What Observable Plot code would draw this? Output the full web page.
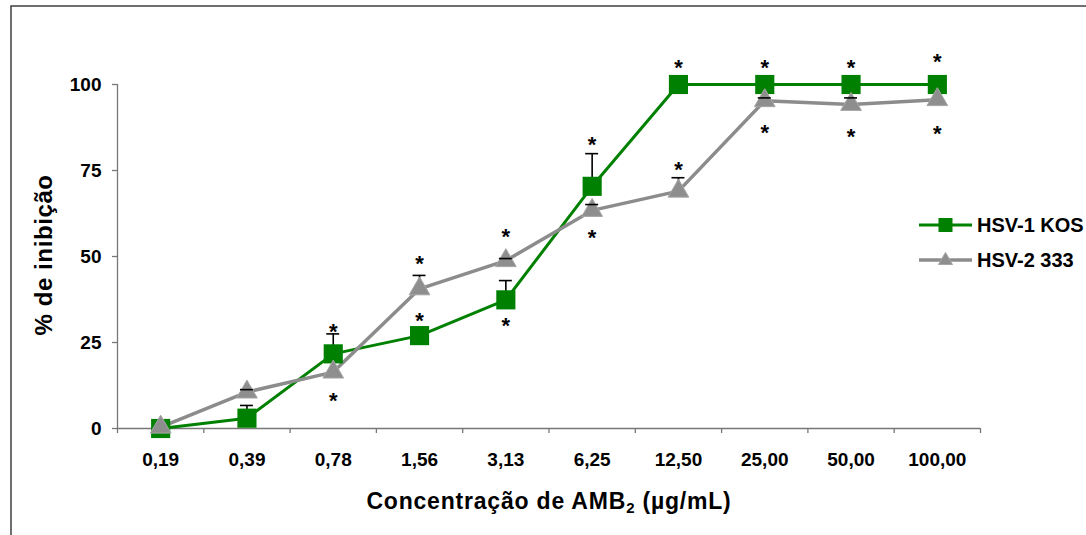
<!DOCTYPE html>
<html>
<head>
<meta charset="utf-8">
<script src="https://cdn.jsdelivr.net/npm/d3@7"></script>
<script src="https://cdn.jsdelivr.net/npm/@observablehq/plot@0.6"></script>
<style>
  html, body { margin: 0; padding: 0; background: #fff; }
  #chart svg { display: block; }
</style>
</head>
<body>
<div id="chart"></div>
<script>
// Categories (concentrations, µg/mL)
const concs = ["0,19", "0,39", "0,78", "1,56", "3,13", "6,25", "12,50", "25,00", "50,00", "100,00"];
// % inhibition, HSV-1 KOS
const kos = [0, 3, 21.7, 27, 37.4, 70.4, 100, 100, 100, 100];
// top of error bar (mean + SD), HSV-1 KOS
const kosErr = [null, 6.7, 27.5, null, 43, 79.9, null, null, null, null];
// % inhibition, HSV-2 333
const hsv2 = [0.4, 10.6, 16.4, 40.6, 48.8, 63.4, 69, 95.3, 94.2, 95.6];
// top of error bar, HSV-2 333
const hsv2Err = [null, 11.3, null, 44.5, 49.4, 65.1, 72.9, 96.1, 96.1, null];
// significance asterisks (level on the % scale where each * sits)
const kosStar = [null, null, 29.4, 32.8, 31.4, 84, 106.2, 106.2, 106.2, 108.1];
const hsv2Star = [null, null, 9.6, 49.4, 57, 56.7, 76.5, 87.5, 86.3, 87.2];
const yTicks = [0, 25, 50, 75, 100];
const seriesNames = ["HSV-1 KOS", "HSV-2 333"];

const GREEN = "#008000";
const GRAY = "#8c8c8c";
const FONT = "'Liberation Sans', Arial, sans-serif";

const rows = concs.map((c, i) => ({
  i, c,
  kos: kos[i], kosErr: kosErr[i], kosStar: kosStar[i],
  hsv2: hsv2[i], hsv2Err: hsv2Err[i], hsv2Star: hsv2Star[i]
}));
const kErr = rows.filter(d => d.kosErr != null);
const hErr = rows.filter(d => d.hsv2Err != null);
const kStar = rows.filter(d => d.kosStar != null);
const hStar = rows.filter(d => d.hsv2Star != null);
const edges = d3.range(concs.length + 1).map(k => k - 0.5);
const capHalf = 0.075;

const plot = Plot.plot({
  width: 1086,
  height: 535,
  marginLeft: 117,
  marginRight: 106,
  marginTop: 84,
  marginBottom: 107,
  style: { fontFamily: FONT, color: "black", background: "white", overflow: "visible" },
  x: { type: "linear", domain: [-0.5, concs.length - 0.5] },
  y: { domain: [0, 100] },
  marks: [
    Plot.ruleY([0], { stroke: "#777", strokeWidth: 1.3 }),
    Plot.ruleX([-0.5], { stroke: "#777", strokeWidth: 1.3 }),
    Plot.axisX({ ticks: edges, tickSize: 5, tickFormat: () => "", label: null, stroke: "#777", strokeWidth: 1.3 }),
    Plot.axisX({ ticks: d3.range(concs.length), tickSize: 0, tickPadding: 24, tickFormat: i => concs[i],
      fontSize: 19, fontWeight: "bold", label: null }),
    Plot.axisY({ ticks: yTicks, tickSize: 5, tickPadding: 11, fontSize: 19, fontWeight: "bold",
      label: null, stroke: "#777", strokeWidth: 1.3 }),
    Plot.line(rows, { x: "i", y: "kos", stroke: GREEN, strokeWidth: 3 }),
    Plot.line(rows, { x: "i", y: "hsv2", stroke: GRAY, strokeWidth: 3.5 }),
    Plot.ruleX(kErr, { x: "i", y1: "kos", y2: "kosErr", stroke: "black", strokeWidth: 1.6 }),
    Plot.ruleX(hErr, { x: "i", y1: "hsv2", y2: "hsv2Err", stroke: "black", strokeWidth: 1.6 }),
    Plot.dot(rows, { x: "i", y: "kos", symbol: "square", r: 10.8, fill: GREEN }),
    Plot.dot(rows, { x: "i", y: "hsv2", symbol: "triangle", r: 7.7, fill: "#8e8e8e", stroke: "#a6a6a6", strokeWidth: 1 }),
    Plot.ruleY(kErr, { y: "kosErr", x1: d => d.i - capHalf, x2: d => d.i + capHalf, stroke: "black", strokeWidth: 1.6 }),
    Plot.ruleY(hErr, { y: "hsv2Err", x1: d => d.i - capHalf, x2: d => d.i + capHalf, stroke: "black", strokeWidth: 1.6 }),
    Plot.text(kStar, { x: "i", y: "kosStar", text: () => "*", fontSize: 22, fontWeight: "bold", dy: 5, fill: "black" }),
    Plot.text(hStar, { x: "i", y: "hsv2Star", text: () => "*", fontSize: 22, fontWeight: "bold", dy: 5, fill: "black" })
  ]
});

const svg = d3.select(plot);

// outer frame (top and left edges visible)
svg.append("path")
  .attr("d", "M11,535V6H1086")
  .attr("fill", "none")
  .attr("stroke", "#404040")
  .attr("stroke-width", 1.5);

// x-axis title with subscript
const xt = svg.append("text")
  .attr("x", 549).attr("y", 509)
  .attr("text-anchor", "middle")
  .attr("font-family", FONT)
  .attr("font-weight", "bold")
  .attr("font-size", 23)
  .attr("letter-spacing", 0.8)
  .attr("fill", "black");
xt.append("tspan").text("Concentração de AMB");
xt.append("tspan").attr("font-size", 15).attr("dy", 4).text("2");
xt.append("tspan").attr("dy", -4).text(" (µg/mL)");

// y-axis title
svg.append("text")
  .attr("transform", "translate(52,255) rotate(-90)")
  .attr("text-anchor", "middle")
  .attr("font-family", FONT)
  .attr("font-weight", "bold")
  .attr("font-size", 24)
  .attr("letter-spacing", 0.6)
  .attr("fill", "black")
  .text("% de inibição");

// legend
const lg = svg.append("g");
const items = [
  { name: seriesNames[0], color: GREEN, y: 225, base: 231.5, sym: d3.symbolSquare, size: 196, fill: GREEN, stroke: "none", w: 3 },
  { name: seriesNames[1], color: GRAY, y: 260, base: 267, sym: d3.symbolTriangle, size: 85, fill: "#8e8e8e", stroke: "#a6a6a6", w: 3.5 }
];
items.forEach(it => {
  lg.append("line").attr("x1", 919).attr("x2", 972).attr("y1", it.y).attr("y2", it.y)
    .attr("stroke", it.color).attr("stroke-width", it.w);
  lg.append("path").attr("d", d3.symbol(it.sym, it.size)())
    .attr("transform", `translate(945.5,${it.sym === d3.symbolSquare ? it.y : it.y + 0.5})`)
    .attr("fill", it.fill).attr("stroke", it.stroke);
  lg.append("text").attr("x", 977).attr("y", it.base)
    .attr("text-anchor", "start")
    .attr("font-family", FONT).attr("font-weight", "bold").attr("font-size", 20)
    .attr("fill", "black").text(it.name);
});

document.getElementById("chart").appendChild(plot);
</script>
</body>
</html>
